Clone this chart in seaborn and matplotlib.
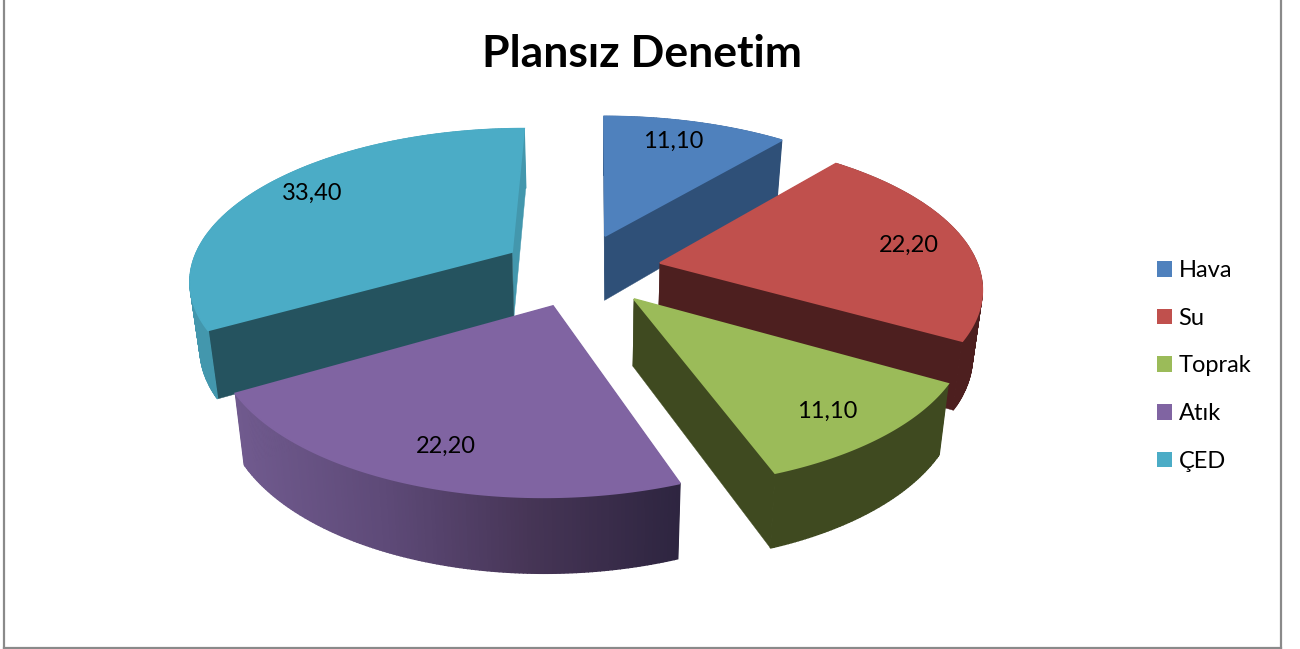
import numpy as np
import matplotlib
matplotlib.use("Agg")
import matplotlib.pyplot as plt
from matplotlib.patches import Patch
import seaborn as sns

# data
categories = ["Hava", "Su", "Toprak", "Atık", "ÇED"]
values = [11.10, 22.20, 11.10, 22.20, 33.40]
title_text = "Plansız Denetim"

# style / layout
top_colors = ["#4F81BD", "#C0504D", "#9BBB59", "#8064A2", "#4BACC6"]
cut_colors = ["#2F5078", "#4D1F1F", "#3F4A20", "#3A2E4C", "#25535F"]
end_colors = ["#2F5078", "#4D1F1F", "#3F4A20", "#3A2E4C", "#4397AD"]
rim_colors = ["#2F5078", "#4D1F1F", "#3F4A20", None, "#4397AD"]
apexes = [(605, 236), (660, 263), (634, 299), (553, 306), (512, 252)]
scale_x = [1.0, 0.975, 1.01, 1.02, 0.97]
scale_y = [1.0, 0.985, 1.06, 1.08, 0.973]
persp = [0.23, 0.153, 0.17, 0.17, 0.16]
label_pos = [(673, 141), (909, 245), (827, 411), (446, 446), (312, 193)]
draw_order = [0, 4, 1, 2, 3]
R, RS, VX = 325.0, 147.0, 600.0
BX, BS = 589.0, 0.975

sns.set_theme(style="white")
plt.rcParams["font.family"] = ["Lato", "DejaVu Sans"]

W, H = 1300, 649
fig = plt.figure(figsize=(W / 100, H / 100), dpi=100, facecolor="white")
L, RGT, T, BOT = 4.0, 1280.5, 0.0, 648.0
ax = fig.add_axes([L / W, 1 - BOT / H, (RGT - L) / W, (BOT - T) / H])
ax.set_xlim(L, RGT)
ax.set_ylim(BOT, T)
ax.set_xticks([])
ax.set_yticks([])
for s in ax.spines.values():
    s.set_color("#8A8A8A")
    s.set_linewidth(1.6)
ax.spines["top"].set_visible(False)


def top_xy(i, th):
    th = np.radians(th)
    u, v = np.sin(th), np.cos(th)
    f = 1 / (1 + persp[i] * v)
    apex = apexes[i]
    return (VX + (apex[0] - VX + R * scale_x[i] * u) * f,
            apex[1] - RS * scale_y[i] * v * f)


def drop(x, y):
    return BX + (x - BX) * BS, y + 60 + (y - 140) * 0.045


def quad(x0, y0, x1, y1, color, z, lw=1.0):
    bx0, by0 = drop(x0, y0)
    bx1, by1 = drop(x1, y1)
    ax.fill([x0, x1, bx1, bx0], [y0, y1, by1, by0], color=color, lw=lw, zorder=z)


angles = np.cumsum([0] + values) / sum(values) * 360
atik_ramp = sns.blend_palette(["#705A8E", "#5E4A78", "#463556", "#2E2540"], 256)

for rank, i in enumerate(draw_order):
    a0, a1 = angles[i], angles[i + 1]
    A = apexes[i]
    base = rank * 10
    ths = np.linspace(a0, a1, int((a1 - a0) / 0.6) + 2)
    xs, ys = top_xy(i, ths)
    vs = np.cos(np.radians(ths))

    def rim(front, z):
        for j in range(len(ths) - 1):
            if (vs[j] + vs[j + 1] < 0) != front:
                continue
            col = rim_colors[i]
            if col is None:
                t = np.clip((xs[j] - xs.min()) / (xs.max() - xs.min()), 0, 0.999)
                col = atik_ramp[int(t * 256)]
            quad(xs[j], ys[j], xs[j + 1], ys[j + 1], col, z)

    rim(False, base + 1)
    quad(A[0], A[1], xs[-1], ys[-1], end_colors[i], base + 2, lw=0.3)
    quad(A[0], A[1], xs[0], ys[0], cut_colors[i], base + 3, lw=0.3)
    rim(True, base + 4)
    ax.fill(np.r_[A[0], xs], np.r_[A[1], ys], color=top_colors[i], lw=1.3, zorder=base + 5)

for cat, val, (x, y) in zip(categories, values, label_pos):
    ax.text(x, y, f"{val:.2f}".replace(".", ","), ha="center", va="center",
            fontsize=17, color="black", zorder=100)

ax.set_title(title_text, fontsize=32, fontweight="bold", color="black", y=0.897, pad=0)

handles = [Patch(facecolor=c, edgecolor="none", label=n) for c, n in zip(top_colors, categories)]
ax.legend(handles=handles, loc="center left", bbox_to_anchor=(1150, 366),
          bbox_transform=ax.transData, frameon=False, fontsize=17,
          handlelength=0.635, handleheight=0.635, handletextpad=0.3,
          labelspacing=1.13, borderpad=0, borderaxespad=0.28, labelcolor="black")

fig.savefig("out.png", dpi=100, facecolor="white")
